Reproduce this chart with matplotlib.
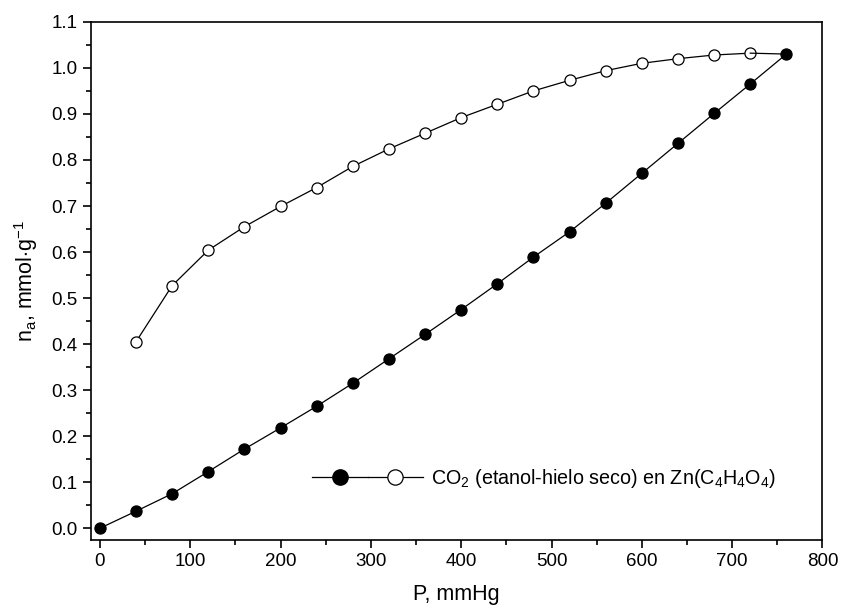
import matplotlib
matplotlib.use("Agg")
import matplotlib.pyplot as plt
from matplotlib.legend_handler import HandlerTuple
from matplotlib.ticker import MultipleLocator

plt.rcParams['font.family'] = ['Liberation Sans', 'DejaVu Sans']
plt.rcParams['mathtext.fontset'] = 'custom'
plt.rcParams['mathtext.rm'] = 'Liberation Sans'
plt.rcParams['mathtext.it'] = 'Liberation Sans'

# adsorption branch (filled)
p_ads = [0, 40, 80, 120, 160, 200, 240, 280, 320, 360, 400, 440, 480, 520,
         560, 600, 640, 680, 720, 760]
n_ads = [0.000, 0.037, 0.075, 0.123, 0.172, 0.218, 0.265, 0.315, 0.368, 0.421,
         0.475, 0.531, 0.589, 0.644, 0.706, 0.771, 0.836, 0.901, 0.965, 1.030]

# desorption branch (open)
p_des = [760, 720, 680, 640, 600, 560, 520, 480, 440, 400, 360, 320, 280, 240,
         200, 160, 120, 80, 40]
n_des = [1.030, 1.032, 1.028, 1.020, 1.010, 0.994, 0.973, 0.950, 0.921, 0.892,
         0.858, 0.824, 0.786, 0.740, 0.699, 0.655, 0.604, 0.527, 0.405]

fig, ax = plt.subplots(figsize=(8.41, 6.07), dpi=100)
fig.subplots_adjust(left=0.108, right=0.978, top=0.964, bottom=0.110)

# open markers first so the shared end point stays filled
line_des, = ax.plot(p_des[1:], n_des[1:], color='black', lw=0.9, marker='o',
                    ms=8, mfc='white', mec='black', mew=0.9)
ax.plot(p_des[:2], n_des[:2], color='black', lw=0.9)
line_ads, = ax.plot(p_ads, n_ads, color='black', lw=0.9, marker='o',
                    ms=8, mfc='black', mec='black', mew=0.9)

ax.set_xlim(-10, 800)
ax.set_ylim(-0.026, 1.1)
ax.xaxis.set_major_locator(MultipleLocator(100))
ax.xaxis.set_minor_locator(MultipleLocator(50))
ax.yaxis.set_major_locator(MultipleLocator(0.1))
ax.yaxis.set_minor_locator(MultipleLocator(0.05))
ax.yaxis.set_major_formatter(plt.FuncFormatter(lambda v, _: f'{v:.1f}'))
ax.tick_params(which='both', direction='out', width=1.2, labelsize=13.5)
ax.tick_params(which='major', length=6)
ax.tick_params(which='minor', length=3.5)
for s in ax.spines.values():
    s.set_linewidth(1.2)

ax.set_xlabel('P, mmHg', fontsize=15.5, labelpad=10)
ax.set_ylabel(r'n$_a$, mmol$\cdot$g$^{-1}$', fontsize=15.5, labelpad=8)

leg_ads, = ax.plot([], [], color='black', lw=0.9, marker='o', ms=11,
                   mfc='black', mec='black')
leg_des, = ax.plot([], [], color='black', lw=0.9, marker='o', ms=11,
                   mfc='white', mec='black', mew=0.9)
ax.legend([(leg_ads, leg_des)],
          [r'CO$_2$ (etanol-hielo seco) en Zn(C$_4$H$_4$O$_4$)'],
          handler_map={tuple: HandlerTuple(ndivide=None, pad=0)},
          loc='center left', bbox_to_anchor=(0.292, 0.12), frameon=False,
          fontsize=14.2, handlelength=5.6, numpoints=1, handletextpad=0.4,
          borderaxespad=0)

fig.savefig('out.png', dpi=100)
